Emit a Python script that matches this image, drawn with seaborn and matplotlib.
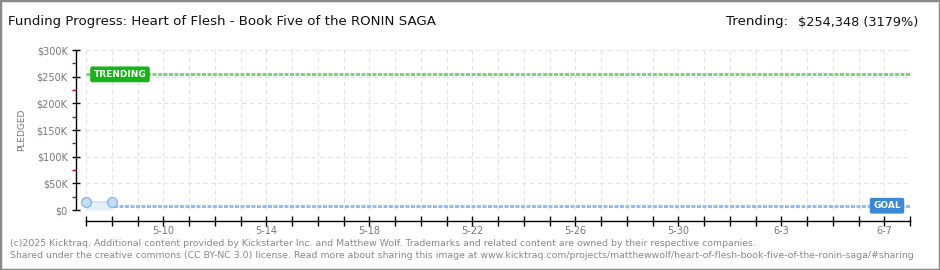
import matplotlib
matplotlib.use("Agg")
import matplotlib.pyplot as plt
import seaborn as sns
import pandas as pd
import numpy as np
from matplotlib.patches import Rectangle

# ---- data ----
pledge_dates = ["2025-05-07", "2025-05-08"]
pledged = [14800, 15400]
goal = 8000
trending = 254348
x_start = "2025-05-07"
x_end = "2025-06-08"
tick_labels = ["5-10", "5-14", "5-18", "5-22", "5-26", "5-30", "6-3", "6-7"]
y_ticks = [0, 50000, 100000, 150000, 200000, 250000, 300000]
y_tick_labels = ["$0", "$50K", "$100K", "$150K", "$200K", "$250K", "$300K"]

title = "Funding Progress: Heart of Flesh - Book Five of the RONIN SAGA"
trend_label = "Trending:"
trend_value = "$254,348 (3179%)"
footer1 = ("(c)2025 Kicktraq. Additional content provided by Kickstarter Inc. and Matthew Wolf. "
           "Trademarks and related content are owned by their respective companies.")
footer2 = ("Shared under the creative commons (CC BY-NC 3.0) license. Read more about sharing this image at "
           "www.kicktraq.com/projects/matthewwolf/heart-of-flesh-book-five-of-the-ronin-saga/#sharing")

sns.set_style("white")
plt.rcParams["font.family"] = ["DejaVu Sans"]

df = pd.DataFrame({"date": pd.to_datetime(pledge_dates), "pledged": pledged})

fig = plt.figure(figsize=(9.4, 2.7), dpi=100)
W, H = 940, 270
ax = fig.add_axes([86 / W, 1 - 210 / H, 824 / W, 160 / H])

d0 = pd.Timestamp(x_start)
d1 = pd.Timestamp(x_end)
ax.set_xlim(d0, d1)
ax.set_ylim(0, 300000)

days = pd.date_range(d0, d1, freq="D")
ax.set_xticks(days)
lab_map = {}
for lbl in tick_labels:
    m, d = lbl.split("-")
    lab_map[pd.Timestamp(2025, int(m), int(d))] = lbl
ax.set_xticklabels([lab_map.get(d, "") for d in days])
ax.set_yticks(y_ticks)
ax.set_yticklabels(y_tick_labels)
ax.set_yticks(np.arange(25000, 300000, 50000), minor=True)
ax.grid(True, which="major", color="#e3e3e3", linestyle=(0, (4, 3)), linewidth=0.8)
ax.set_axisbelow(True)

# goal and trending lines
ax.axhline(goal, color="#93bdee", linewidth=2.2, linestyle=(0, (1.3, 0.5)), zorder=2)
ax.axhline(trending, color="#7fd07f", linewidth=2.2, linestyle=(0, (1.3, 0.5)), zorder=2)

# pledged area + points
ax.fill_between(df["date"], df["pledged"], 0, color="#e4effb", zorder=2, linewidth=0)
sns.lineplot(data=df, x="date", y="pledged", ax=ax, color="#c4dbf5", linewidth=1, zorder=3)
sns.scatterplot(data=df, x="date", y="pledged", ax=ax, s=50, color="#c6ddf6",
                edgecolor="#8fb6e6", linewidth=1, zorder=4, clip_on=False)
ax.set_xlabel("")
ax.set_ylabel("")

# labels on lines
ax.text(34 / 824, trending, "TRENDING", transform=ax.get_yaxis_transform(),
        ha="center", va="center", fontsize=6.5, color="white", fontweight="bold",
        bbox=dict(boxstyle="round,pad=0.3,rounding_size=0.15", fc="#14b514", ec="#14b514"), zorder=5)
ax.text(801 / 824, goal, "GOAL", transform=ax.get_yaxis_transform(),
        ha="center", va="center", fontsize=6.5, color="white", fontweight="bold",
        bbox=dict(boxstyle="round,pad=0.3,rounding_size=0.15", fc="#3a88d8", ec="#3a88d8"), zorder=5)

# spines
for s in ["top", "right"]:
    ax.spines[s].set_visible(False)
ax.spines["left"].set_position(("outward", 7.2))
ax.spines["bottom"].set_position(("outward", 7.9))
for s in ["left", "bottom"]:
    ax.spines[s].set_color("black")
    ax.spines[s].set_linewidth(1)
ax.tick_params(axis="x", which="major", bottom=True, direction="inout", length=7, width=1,
               color="black", labelsize=7, labelcolor="#777777", pad=0)
ax.tick_params(axis="y", which="major", left=True, direction="inout", length=6, width=1,
               color="black", labelsize=7, labelcolor="#777777", pad=3)
ax.tick_params(axis="y", which="minor", left=True, direction="out", length=3, width=1, color="#e00000")
ax.yaxis.set_minor_formatter(plt.NullFormatter())

# y label
fig.text(22 / W, 1 - 130 / H, "PLEDGED", rotation=90, ha="center", va="center",
         fontsize=6.5, color="#777777")

# title and trending
fig.text(8 / W, 1 - 22 / H, title, ha="left", va="center", fontsize=9.6,
         color="#111111")
tv = fig.text(918 / W, 1 - 22 / H, trend_value, ha="right", va="center", fontsize=9.3,
              color="#111111")
renderer = fig.canvas.get_renderer()
bb = tv.get_window_extent(renderer=renderer)
fig.text((bb.x0 - 10) / W, 1 - 22 / H, trend_label, ha="right", va="center", fontsize=9.6,
         color="#111111")

# footer
fig.text(10 / W, 1 - 243 / H, footer1, ha="left", va="center", fontsize=6.74, color="#888888")
fig.text(10 / W, 1 - 256 / H, footer2, ha="left", va="center", fontsize=6.74, color="#888888")

# border
fig.patches.append(Rectangle((0, 0), 1, 1, transform=fig.transFigure, fill=False,
                             edgecolor="#8a8a8a", linewidth=2.5))

fig.savefig("out.png", dpi=100)
